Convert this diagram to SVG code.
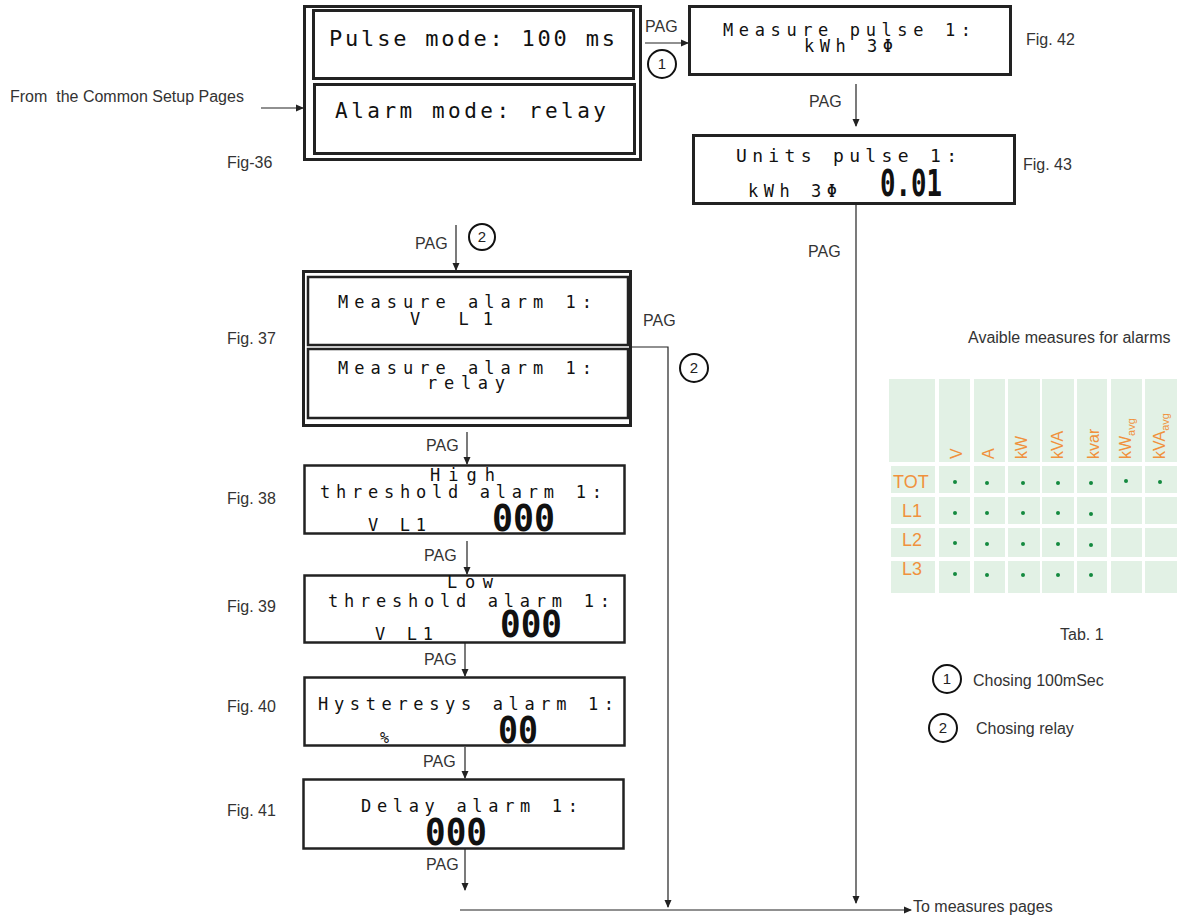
<svg xmlns="http://www.w3.org/2000/svg" width="1177" height="916" viewBox="0 0 1177 916">
<defs>
<marker id="ah" markerWidth="8" markerHeight="8" refX="7" refY="4" orient="auto" markerUnits="userSpaceOnUse">
<path d="M0,0.5 L8,4 L0,7.5 z" fill="#222"/>
</marker>
<style>
.lbl{font-family:"Liberation Sans",Arial,sans-serif;font-size:16px;fill:#333}
.lcd{font-family:"DejaVu Sans Mono","Liberation Mono",monospace;font-size:17px;fill:#111}
.dig{font-family:"DejaVu Sans Mono","Liberation Mono",monospace;font-weight:bold;font-size:38px;fill:#111}
.box{fill:#fff;stroke:#222;stroke-width:3}
.box2{fill:#fff;stroke:#222;stroke-width:2.5}
.con{fill:none;stroke:#222;stroke-width:1.2}
.circ{fill:#fff;stroke:#111;stroke-width:2}
.cnum{font-family:"Liberation Sans",Arial,sans-serif;font-size:15px;fill:#222;text-anchor:middle}
.cell{fill:#e2f1e5}
.or{font-family:"Liberation Sans",Arial,sans-serif;font-size:18px;fill:#f0913d}
.orh{font-family:"Liberation Sans",Arial,sans-serif;font-size:16px;fill:#f0913d}
.dot{fill:#138a3f}
</style>
</defs>
<rect width="1177" height="916" fill="#fff"/>

<g id="connectors">
<line class="con" x1="261" y1="108" x2="303" y2="108" marker-end="url(#ah)"/>
<line class="con" x1="645" y1="43" x2="688" y2="43" marker-end="url(#ah)"/>
<line class="con" x1="856" y1="84" x2="856" y2="126" marker-end="url(#ah)"/>
<line class="con" x1="856" y1="204" x2="856" y2="903" marker-end="url(#ah)"/>
<line class="con" x1="456" y1="225" x2="456" y2="270" marker-end="url(#ah)"/>
<polyline class="con" points="631,347 668,347 668,907" marker-end="url(#ah)"/>
<line class="con" x1="467" y1="432" x2="467" y2="464" marker-end="url(#ah)"/>
<line class="con" x1="467" y1="541" x2="467" y2="574" marker-end="url(#ah)"/>
<line class="con" x1="465" y1="643" x2="465" y2="676" marker-end="url(#ah)"/>
<line class="con" x1="465" y1="747" x2="465" y2="778" marker-end="url(#ah)"/>
<line class="con" x1="465" y1="849" x2="465" y2="890" marker-end="url(#ah)"/>
<line class="con" x1="460" y1="910" x2="911" y2="910" marker-end="url(#ah)"/>
<text class="lbl" x="645" y="32">PAG</text>
<circle class="circ" cx="662" cy="64" r="14"/><text class="cnum" x="662" y="69">1</text>
<text class="lbl" x="809" y="107">PAG</text>
<text class="lbl" x="808" y="257">PAG</text>
<text class="lbl" x="415" y="249">PAG</text>
<circle class="circ" cx="482" cy="237" r="13"/><text class="cnum" x="482" y="242">2</text>
<text class="lbl" x="643" y="326">PAG</text>
<circle class="circ" cx="694" cy="368" r="14"/><text class="cnum" x="694" y="373">2</text>
<text class="lbl" x="426" y="451">PAG</text>
<text class="lbl" x="424" y="561">PAG</text>
<text class="lbl" x="424" y="665">PAG</text>
<text class="lbl" x="423" y="767">PAG</text>
<text class="lbl" x="426" y="870">PAG</text>
</g>

<text class="lbl" x="10" y="102" xml:space="preserve">From  the Common Setup Pages</text>
<text class="lbl" x="913" y="912">To measures pages</text>

<g id="fig36">
<rect class="box" x="304.5" y="6.5" width="336" height="153"/>
<rect class="box" x="313.5" y="10.5" width="320" height="68"/>
<rect class="box" x="314.5" y="84.5" width="320" height="69"/>
<text class="lcd" style="font-size:22px" x="329" y="46" textLength="286" lengthAdjust="spacing">Pulse mode: 100 ms</text>
<text class="lcd" style="font-size:21px" x="335" y="118" textLength="271" lengthAdjust="spacing">Alarm mode: relay</text>
<text class="lbl" x="227" y="168">Fig-36</text>
</g>

<g id="fig42">
<rect class="box" x="689.5" y="6.5" width="321" height="68"/>
<text class="lcd" x="723" y="36" textLength="248" lengthAdjust="spacing">Measure pulse 1:</text>
<text class="lcd" x="804" y="52" textLength="89" lengthAdjust="spacing">kWh 3Φ</text>
<text class="lbl" x="1026" y="45">Fig. 42</text>
</g>

<g id="fig43">
<rect class="box" x="693.5" y="135.5" width="321" height="68"/>
<text class="lcd" style="font-size:18px" x="736" y="162" textLength="221" lengthAdjust="spacing">Units pulse 1:</text>
<text class="lcd" x="748" y="197" textLength="89" lengthAdjust="spacing">kWh 3Φ</text>
<text class="dig" x="880" y="196" textLength="62" lengthAdjust="spacingAndGlyphs">0.01</text>
<text class="lbl" x="1023" y="170">Fig. 43</text>
</g>

<g id="fig37">
<rect class="box" x="303.5" y="271.5" width="327" height="154"/>
<rect class="box2" x="308" y="277" width="320" height="68"/>
<rect class="box2" x="308" y="349" width="320" height="69"/>
<text class="lcd" x="338" y="308" textLength="254" lengthAdjust="spacing">Measure alarm 1:</text>
<text class="lcd" x="410" y="325" textLength="83" lengthAdjust="spacing">V L1</text>
<text class="lcd" x="338" y="374" textLength="254" lengthAdjust="spacing">Measure alarm 1:</text>
<text class="lcd" x="427" y="389" textLength="78" lengthAdjust="spacing">relay</text>
<text class="lbl" x="227" y="344">Fig. 37</text>
</g>

<g id="fig38">
<rect class="box2" x="304.5" y="465.5" width="320" height="68"/>
<text class="lcd" x="430" y="481" textLength="65" lengthAdjust="spacing">High</text>
<text class="lcd" x="320" y="498" textLength="282" lengthAdjust="spacing">threshold alarm 1:</text>
<text class="lcd" x="368" y="531" textLength="58" lengthAdjust="spacing">V L1</text>
<text class="dig" x="492" y="531" textLength="63" lengthAdjust="spacingAndGlyphs">000</text>
<text class="lbl" x="227" y="504">Fig. 38</text>
</g>

<g id="fig39">
<rect class="box2" x="304.5" y="575.5" width="320" height="67"/>
<text class="lcd" x="447" y="588" textLength="46" lengthAdjust="spacing">Low</text>
<text class="lcd" x="328" y="607" textLength="282" lengthAdjust="spacing">threshold alarm 1:</text>
<text class="lcd" x="375" y="640" textLength="58" lengthAdjust="spacing">V L1</text>
<text class="dig" x="500" y="637" textLength="62" lengthAdjust="spacingAndGlyphs">000</text>
<text class="lbl" x="227" y="612">Fig. 39</text>
</g>

<g id="fig40">
<rect class="box2" x="304.5" y="677.5" width="320" height="68"/>
<text class="lcd" x="318" y="710" textLength="296" lengthAdjust="spacing">Hysteresys alarm 1:</text>
<text class="lcd" style="font-size:15px" x="380" y="743">%</text>
<text class="dig" x="498" y="743" textLength="40" lengthAdjust="spacingAndGlyphs">00</text>
<text class="lbl" x="227" y="712">Fig. 40</text>
</g>

<g id="fig41">
<rect class="box2" x="303.5" y="779.5" width="320" height="69"/>
<text class="lcd" x="361" y="812" textLength="217" lengthAdjust="spacing">Delay alarm 1:</text>
<text class="dig" x="425" y="845" textLength="62" lengthAdjust="spacingAndGlyphs">000</text>
<text class="lbl" x="227" y="816">Fig. 41</text>
</g>

<g id="table">
<text class="lbl" x="968" y="343">Avaible measures for alarms</text>
<rect class="cell" x="889" y="379" width="46" height="83"/>
<rect class="cell" x="939" y="379" width="31" height="83"/>
<rect class="cell" x="974" y="379" width="31" height="83"/>
<rect class="cell" x="1008" y="379" width="32" height="83"/>
<rect class="cell" x="1042" y="379" width="32" height="83"/>
<rect class="cell" x="1077" y="379" width="30" height="83"/>
<rect class="cell" x="1111" y="379" width="31" height="83"/>
<rect class="cell" x="1145" y="379" width="32" height="83"/>
<g id="rows">
<rect class="cell" x="891" y="466" width="44" height="27"/>
<rect class="cell" x="939" y="466" width="31" height="27"/>
<rect class="cell" x="974" y="466" width="31" height="27"/>
<rect class="cell" x="1008" y="466" width="32" height="27"/>
<rect class="cell" x="1042" y="466" width="32" height="27"/>
<rect class="cell" x="1077" y="466" width="30" height="27"/>
<rect class="cell" x="1111" y="466" width="31" height="27"/>
<rect class="cell" x="1145" y="466" width="32" height="27"/>
<rect class="cell" x="891" y="497" width="44" height="27"/>
<rect class="cell" x="939" y="497" width="31" height="27"/>
<rect class="cell" x="974" y="497" width="31" height="27"/>
<rect class="cell" x="1008" y="497" width="32" height="27"/>
<rect class="cell" x="1042" y="497" width="32" height="27"/>
<rect class="cell" x="1077" y="497" width="30" height="27"/>
<rect class="cell" x="1111" y="497" width="31" height="27"/>
<rect class="cell" x="1145" y="497" width="32" height="27"/>
<rect class="cell" x="891" y="528" width="44" height="29"/>
<rect class="cell" x="939" y="528" width="31" height="29"/>
<rect class="cell" x="974" y="528" width="31" height="29"/>
<rect class="cell" x="1008" y="528" width="32" height="29"/>
<rect class="cell" x="1042" y="528" width="32" height="29"/>
<rect class="cell" x="1077" y="528" width="30" height="29"/>
<rect class="cell" x="1111" y="528" width="31" height="29"/>
<rect class="cell" x="1145" y="528" width="32" height="29"/>
<rect class="cell" x="891" y="561" width="44" height="32"/>
<rect class="cell" x="939" y="561" width="31" height="32"/>
<rect class="cell" x="974" y="561" width="31" height="32"/>
<rect class="cell" x="1008" y="561" width="32" height="32"/>
<rect class="cell" x="1042" y="561" width="32" height="32"/>
<rect class="cell" x="1077" y="561" width="30" height="32"/>
<rect class="cell" x="1111" y="561" width="31" height="32"/>
<rect class="cell" x="1145" y="561" width="32" height="32"/>
</g>
<text class="orh" transform="translate(962,459) rotate(-90)">V</text>
<text class="orh" transform="translate(994,459) rotate(-90)">A</text>
<text class="orh" transform="translate(1027,459) rotate(-90)">kW</text>
<text class="orh" transform="translate(1063,459) rotate(-90)">kVA</text>
<text class="orh" transform="translate(1099,459) rotate(-90)">kvar</text>
<text class="orh" transform="translate(1131,459) rotate(-90)">kW<tspan style="font-size:11px" dy="4">avg</tspan></text>
<text class="orh" transform="translate(1165,459) rotate(-90)">kVA<tspan style="font-size:11px" dy="4">avg</tspan></text>
<text class="or" x="893" y="488">TOT</text>
<text class="or" x="902" y="517">L1</text>
<text class="or" x="902" y="546">L2</text>
<text class="or" x="902" y="575">L3</text>
<g id="dots">
<circle class="dot" cx="955" cy="482" r="2"/><circle class="dot" cx="987" cy="483" r="2"/><circle class="dot" cx="1023" cy="483" r="2"/><circle class="dot" cx="1058" cy="483" r="2"/><circle class="dot" cx="1091" cy="483" r="2"/><circle class="dot" cx="1126" cy="481" r="2"/><circle class="dot" cx="1160" cy="482" r="2"/>
<circle class="dot" cx="955" cy="513" r="2"/><circle class="dot" cx="987" cy="513" r="2"/><circle class="dot" cx="1023" cy="513" r="2"/><circle class="dot" cx="1058" cy="513" r="2"/><circle class="dot" cx="1091" cy="514" r="2"/>
<circle class="dot" cx="955" cy="543" r="2"/><circle class="dot" cx="987" cy="544" r="2"/><circle class="dot" cx="1023" cy="544" r="2"/><circle class="dot" cx="1058" cy="544" r="2"/><circle class="dot" cx="1091" cy="545" r="2"/>
<circle class="dot" cx="955" cy="574" r="2"/><circle class="dot" cx="987" cy="575" r="2"/><circle class="dot" cx="1023" cy="575" r="2"/><circle class="dot" cx="1058" cy="575" r="2"/><circle class="dot" cx="1091" cy="575" r="2"/>
</g>
<text class="lbl" x="1060" y="640">Tab. 1</text>
</g>

<g id="legend">
<circle class="circ" cx="947" cy="679" r="14"/><text class="cnum" x="947" y="684">1</text>
<text class="lbl" x="973" y="686">Chosing 100mSec</text>
<circle class="circ" cx="943" cy="728" r="14"/><text class="cnum" x="943" y="733">2</text>
<text class="lbl" x="976" y="734">Chosing relay</text>
</g>
</svg>
